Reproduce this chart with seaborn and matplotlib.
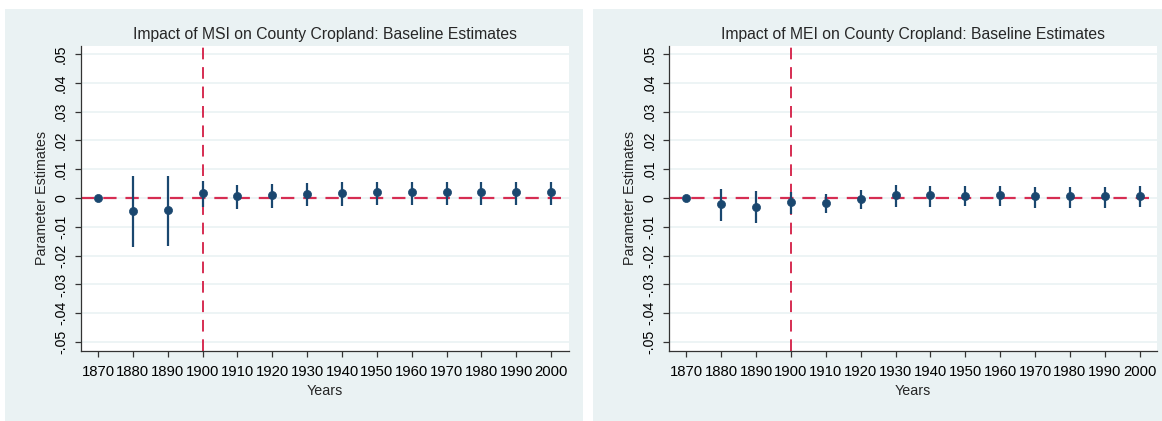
import pandas as pd
import numpy as np
import matplotlib
matplotlib.use("Agg")
import matplotlib.pyplot as plt
import seaborn as sns
from matplotlib.patches import Rectangle

# ---------------------------------------------------------
# Data
# ---------------------------------------------------------
years = [1870, 1880, 1890, 1900, 1910, 1920, 1930, 1940, 1950, 1960, 1970, 1980, 1990, 2000]

msi_est = [0.0, -0.0046, -0.0041, 0.0018, 0.0008, 0.0012, 0.0014, 0.0016, 0.0020, 0.0020, 0.0020, 0.0020, 0.0020, 0.0020]
msi_lo = [np.nan, -0.0170, -0.0166, -0.0031, -0.0037, -0.0033, -0.0028, -0.0028, -0.0024, -0.0024, -0.0024, -0.0024, -0.0024, -0.0024]
msi_hi = [np.nan, 0.0078, 0.0078, 0.0060, 0.0047, 0.0049, 0.0053, 0.0055, 0.0057, 0.0057, 0.0057, 0.0057, 0.0057, 0.0057]

mei_est = [0.0, -0.0022, -0.0031, -0.0012, -0.0017, -0.0003, 0.0009, 0.0009, 0.0008, 0.0009, 0.0006, 0.0006, 0.0006, 0.0007]
mei_lo = [np.nan, -0.0080, -0.0088, -0.0054, -0.0052, -0.0039, -0.0031, -0.0031, -0.0028, -0.0028, -0.0034, -0.0034, -0.0034, -0.0031]
mei_hi = [np.nan, 0.0030, 0.0023, 0.0022, 0.0015, 0.0027, 0.0044, 0.0041, 0.0043, 0.0043, 0.0037, 0.0037, 0.0037, 0.0041]

yticks = [-0.05, -0.04, -0.03, -0.02, -0.01, 0, 0.01, 0.02, 0.03, 0.04, 0.05]
ytick_labels = ["-.05", "-.04", "-.03", "-.02", "-.01", "0", ".01", ".02", ".03", ".04", ".05"]

titles = ["Impact of MSI on County Cropland: Baseline Estimates",
          "Impact of MEI on County Cropland: Baseline Estimates"]

# ---------------------------------------------------------
# Style
# ---------------------------------------------------------
sns.set_theme(style="white")
plt.rcParams["font.family"] = ["Liberation Sans", "DejaVu Sans"]

navy = "#1a476f"
red = "#d62d52"
panel_bg = "#eaf2f3"

fig = plt.figure(figsize=(11.62, 4.21), dpi=100)
fig.patch.set_facecolor("white")

# outer panels (Stata graph region), drawn on a background axes
bg = fig.add_axes([0, 0, 1, 1], zorder=-10)
bg.set_xlim(0, 1162)
bg.set_ylim(421, 0)
bg.axis("off")
bg.add_patch(Rectangle((5, 9), 578, 412, facecolor=panel_bg, edgecolor="none"))
bg.add_patch(Rectangle((593, 9), 569, 412, facecolor=panel_bg, edgecolor="none"))

ax1 = fig.add_axes([80.6 / 1162, 0.1663, 0.42, 0.7252])
ax2 = fig.add_axes([669 / 1162, 0.1663, 0.42, 0.7252])

panels = [
    (ax1, msi_est, msi_lo, msi_hi, titles[0]),
    (ax2, mei_est, mei_lo, mei_hi, titles[1]),
]

for ax, est, lo, hi, title in panels:
    df = pd.DataFrame({"year": years, "est": est, "lo": lo, "hi": hi})
    ax.set_facecolor("white")

    # grid lines
    for t in yticks:
        ax.axhline(t, color=panel_bg, lw=1.2, zorder=0)

    ax.axhline(0, color=red, lw=1.6, dashes=(6, 4), zorder=1)
    ax.axvline(1900, color=red, lw=1.4, dashes=(6, 4), zorder=1)

    ci = df.dropna()
    ax.vlines(ci["year"], ci["lo"], ci["hi"], color=navy, lw=1.6, zorder=2)
    sns.scatterplot(data=df, x="year", y="est", ax=ax, color=navy, s=34,
                    edgecolor=navy, linewidth=0.5, zorder=3)

    ax.set_xlim(1865, 2005)
    ax.set_ylim(-0.0531, 0.0529)
    ax.set_xticks(years)
    ax.set_xticklabels([str(y) for y in years], fontsize=10.7)
    ax.set_yticks(yticks)
    ax.set_yticklabels(ytick_labels, fontsize=10.2, rotation=90, va="center")

    ax.set_xlabel("Years", fontsize=10.3, labelpad=4)
    ax.set_ylabel("Parameter Estimates", fontsize=10.3, labelpad=4)
    ax.set_title(title, fontsize=11.3, pad=5)

    for side in ["top", "right"]:
        ax.spines[side].set_visible(False)
    for side in ["left", "bottom"]:
        ax.spines[side].set_color("#333333")
        ax.spines[side].set_linewidth(0.9)
    ax.tick_params(axis="x", which="major", direction="out", length=4, width=0.9,
                   color="#333333", labelcolor="#000000", bottom=True, pad=6)
    ax.tick_params(axis="y", which="major", direction="out", length=4, width=0.9,
                   color="#333333", labelcolor="#000000", left=True, pad=5)

fig.savefig("out.png", dpi=100, facecolor=fig.get_facecolor())
